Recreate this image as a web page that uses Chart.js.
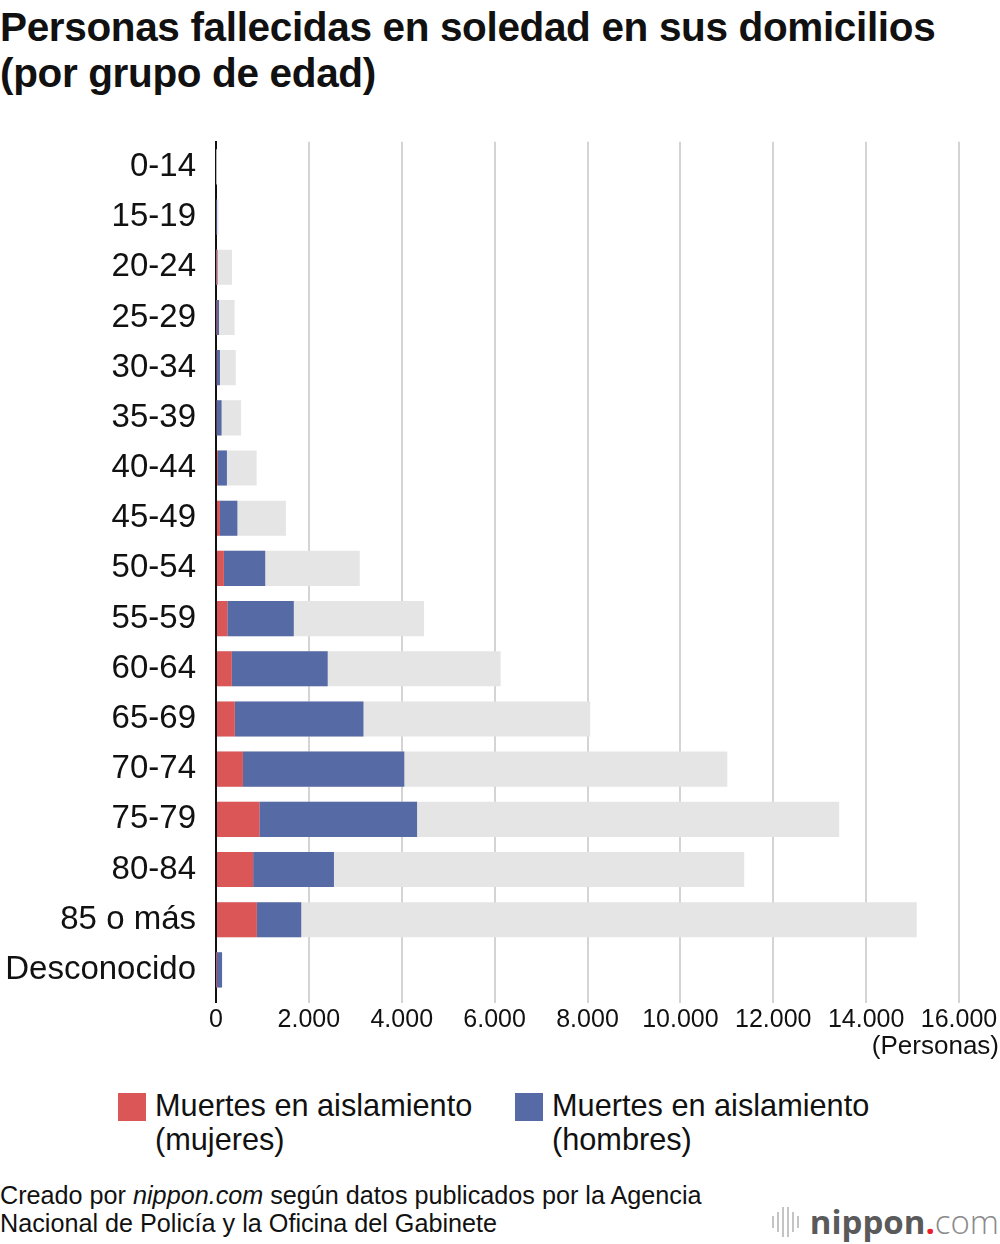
<!DOCTYPE html>
<html>
<head>
<meta charset="utf-8">
<script src="https://cdn.jsdelivr.net/npm/chart.js@4"></script>
<style>
  html, body { margin: 0; padding: 0; background: #fff; }
  body { width: 1000px; height: 1244px; position: relative; overflow: hidden; font-family: "Liberation Sans", Arial, sans-serif; color: #111; }
  #title { position: absolute; left: 0; top: 4px; font-weight: bold; font-size: 40.5px; line-height: 46px; letter-spacing: -0.35px; }
  #chartWrap { position: absolute; left: 0; top: 102px; width: 1000px; height: 963px; }
  #unit { position: absolute; right: 1px; top: 1030px; font-size: 26px; line-height: 30px; }
  .leg { position: absolute; top: 1089px; font-size: 30.7px; line-height: 34px; }
  .sw { position: absolute; top: 4px; width: 28px; height: 28px; }
  .leg .txt { position: absolute; left: 37px; top: 0; white-space: nowrap; }
  #source { position: absolute; left: 0; top: 1181px; font-size: 25.2px; line-height: 28px; }
  #logo { position: absolute; right: 1px; top: 1201px; height: 44px; font-family: "Open Sans", "DejaVu Sans", sans-serif; font-size: 33px; line-height: 42px; white-space: nowrap; }
  #logo .n { color: #5a5a5a; font-weight: 700; }
  #logo .d { color: #e8202a; font-weight: 700; }
  #logo .c { color: #8a8a8a; font-weight: 300; }
  #bars { position: absolute; left: 772px; top: 1207px; height: 30px; width: 30px; }
  #bars span { position: absolute; width: 2px; background: #c4c4c4; }
</style>
</head>
<body>
<div id="title">Personas fallecidas en soledad en sus domicilios<br>(por grupo de edad)</div>
<div id="chartWrap"><canvas id="c" width="1000" height="963"></canvas></div>
<div id="unit">(Personas)</div>
<div class="leg" style="left:118px;"><div class="sw" style="background:#DB5656;"></div><div class="txt">Muertes en aislamiento<br>(mujeres)</div></div>
<div class="leg" style="left:515px;"><div class="sw" style="background:#566AA6;"></div><div class="txt">Muertes en aislamiento<br>(hombres)</div></div>
<div id="source">Creado por <i>nippon.com</i> según datos publicados por la Agencia<br>Nacional de Policía y la Oficina del Gabinete</div>
<div id="bars">
  <span style="left:0px;height:12px;top:9px;"></span>
  <span style="left:5px;height:20px;top:5px;"></span>
  <span style="left:10px;height:30px;top:0px;"></span>
  <span style="left:15px;height:30px;top:0px;"></span>
  <span style="left:20px;height:20px;top:5px;"></span>
  <span style="left:25px;height:12px;top:9px;"></span>
</div>
<div id="logo"><span class="n">nippon</span><span class="d">.</span><span class="c">com</span></div>
<script>
// Age groups
const categories = ['0-14','15-19','20-24','25-29','30-34','35-39','40-44','45-49','50-54','55-59','60-64','65-69','70-74','75-79','80-84','85 o más','Desconocido'];
// Isolation deaths, women
const women = [0, 0, 3, 10, 15, 15, 40, 85, 170, 245, 340, 405, 580, 935, 800, 880, 5];
// Isolation deaths, men
const men = [0, 5, 30, 55, 70, 105, 195, 375, 890, 1430, 2065, 2770, 3475, 3395, 1740, 955, 125];
// All people who died alone at home
const totals = [5, 55, 345, 400, 425, 540, 875, 1505, 3095, 4480, 6130, 8060, 11010, 13420, 11375, 15090, 135];
// X axis ticks
const xTicks = [0, 2000, 4000, 6000, 8000, 10000, 12000, 14000, 16000];

const fmt = v => String(v).replace(/\B(?=(\d{3})+(?!\d))/g, '.');

new Chart(document.getElementById('c'), {
  type: 'bar',
  data: {
    labels: categories,
    datasets: [
      { label: 'Muertes en aislamiento (mujeres)', data: women, backgroundColor: '#DB5656', stack: 'iso', order: 1 },
      { label: 'Muertes en aislamiento (hombres)', data: men, backgroundColor: '#566AA6', stack: 'iso', order: 1 },
      { label: 'Total', data: totals, backgroundColor: '#E5E5E5', stack: 'tot', order: 2 }
    ]
  },
  options: {
    indexAxis: 'y',
    responsive: false,
    animation: false,
    devicePixelRatio: 1,
    datasets: { bar: { grouped: false, categoryPercentage: 1, barPercentage: 0.7, borderWidth: 0 } },
    layout: { padding: { top: 10, right: 41, left: 0, bottom: 0 } },
    plugins: { legend: { display: false }, tooltip: { enabled: false }, title: { display: false } },
    scales: {
      x: {
        stacked: true,
        min: 0, max: 16000,
        afterBuildTicks: s => { s.ticks = xTicks.map(v => ({ value: v })); },
        afterFit: s => { s.height = 70; },
        grid: {
          color: ctx => (ctx.tick && ctx.tick.value === 0) ? '#111' : '#D4D4D4',
          lineWidth: 2,
          tickLength: 8,
          drawTicks: true
        },
        border: { display: false },
        ticks: {
          padding: 2,
          color: '#111',
          font: { family: '"Liberation Sans", Arial, sans-serif', size: 25 },
          callback: v => fmt(v),
          maxRotation: 0,
          autoSkip: false
        }
      },
      y: {
        stacked: true,
        afterFit: s => { s.width = 216; },
        grid: { display: false, drawTicks: false },
        border: { display: true, color: '#111', width: 2 },
        ticks: {
          padding: 20,
          color: '#111',
          font: { family: '"Liberation Sans", Arial, sans-serif', size: 33 },
          autoSkip: false
        }
      }
    }
  }
});
</script>
</body>
</html>
